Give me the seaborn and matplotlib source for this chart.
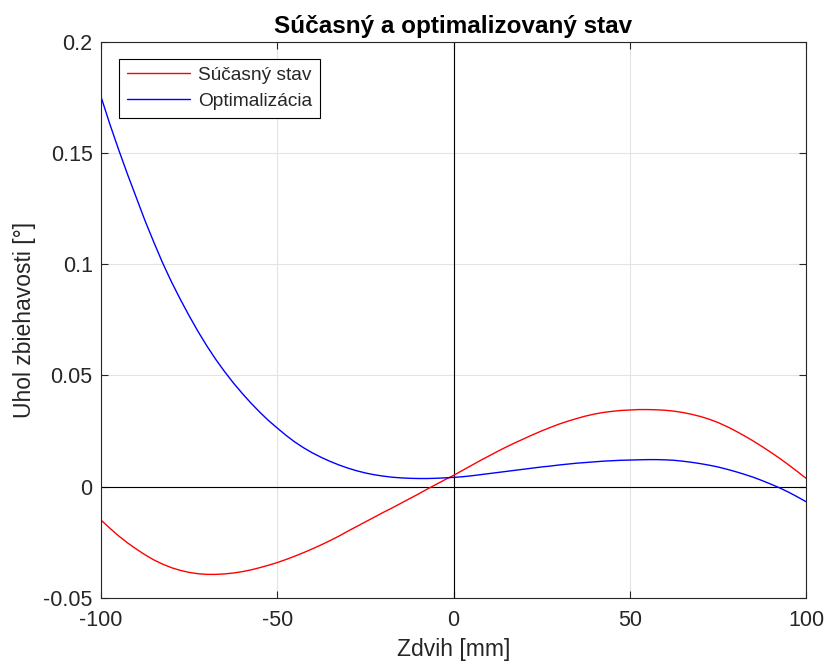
import matplotlib
matplotlib.use("Agg")
import matplotlib.pyplot as plt
import pandas as pd
import seaborn as sns

# Stroke positions [mm]
zdvih = [-100, -97.5, -95, -92.5, -90, -87.5, -85, -82.5, -80, -77.5,
         -75, -72.5, -70, -67.5, -65, -62.5, -60, -57.5, -55, -52.5,
         -50, -47.5, -45, -42.5, -40, -37.5, -35, -32.5, -30, -27.5,
         -25, -22.5, -20, -17.5, -15, -12.5, -10, -7.5, -5, -2.5,
         0, 2.5, 5, 7.5, 10, 12.5, 15, 17.5, 20, 22.5,
         25, 27.5, 30, 32.5, 35, 37.5, 40, 42.5, 45, 47.5,
         50, 52.5, 55, 57.5, 60, 62.5, 65, 67.5, 70, 72.5,
         75, 77.5, 80, 82.5, 85, 87.5, 90, 92.5, 95, 97.5, 100]

# Toe angle, current state [deg]
sucasny = [-0.0151, -0.0187, -0.0222, -0.0253, -0.0281, -0.0307, -0.0330, -0.0349, -0.0365, -0.0377,
           -0.0386, -0.0392, -0.0395, -0.0395, -0.0393, -0.0389, -0.0383, -0.0375, -0.0365, -0.0354,
           -0.0342, -0.0328, -0.0313, -0.0297, -0.0280, -0.0262, -0.0243, -0.0223, -0.0201, -0.0180,
           -0.0159, -0.0138, -0.0117, -0.0097, -0.0076, -0.0055, -0.0034, -0.0012, 0.0009, 0.0030,
           0.0050, 0.0072, 0.0094, 0.0116, 0.0137, 0.0158, 0.0178, 0.0197, 0.0215, 0.0233,
           0.0250, 0.0266, 0.0281, 0.0294, 0.0306, 0.0317, 0.0326, 0.0333, 0.0338, 0.0342,
           0.0344, 0.0346, 0.0346, 0.0345, 0.0343, 0.0339, 0.0333, 0.0325, 0.0315, 0.0303,
           0.0288, 0.0270, 0.0250, 0.0228, 0.0205, 0.0180, 0.0154, 0.0127, 0.0098, 0.0068, 0.0037]

# Toe angle, optimised state [deg]
optimalizacia = [0.1753, 0.1630, 0.1515, 0.1405, 0.1300, 0.1195, 0.1098, 0.1005, 0.0920, 0.0842,
                 0.0768, 0.0698, 0.0633, 0.0573, 0.0518, 0.0467, 0.0420, 0.0376, 0.0335, 0.0297,
                 0.0263, 0.0230, 0.0200, 0.0174, 0.0151, 0.0131, 0.0113, 0.0097, 0.0083, 0.0071,
                 0.0061, 0.0053, 0.0047, 0.0042, 0.0039, 0.0037, 0.0036, 0.0036, 0.0037, 0.0039,
                 0.0041, 0.0044, 0.0048, 0.0053, 0.0058, 0.0063, 0.0068, 0.0073, 0.0078, 0.0083,
                 0.0088, 0.0092, 0.0097, 0.0101, 0.0105, 0.0108, 0.0111, 0.0114, 0.0116, 0.0118,
                 0.0119, 0.0120, 0.0121, 0.0121, 0.0120, 0.0118, 0.0114, 0.0109, 0.0103, 0.0096,
                 0.0088, 0.0078, 0.0067, 0.0055, 0.0042, 0.0027, 0.0011, -0.0006, -0.0025, -0.0046, -0.0068]

series_names = ["Súčasný stav", "Optimalizácia"]
series_colors = ["#ff0000", "#0000ff"]

xticks = [-100, -50, 0, 50, 100]
yticks = [-0.05, 0, 0.05, 0.1, 0.15, 0.2]
yticklabels = ["-0.05", "0", "0.05", "0.1", "0.15", "0.2"]

df = pd.concat([
    pd.DataFrame({"Zdvih": zdvih, "Uhol": sucasny, "Stav": series_names[0]}),
    pd.DataFrame({"Zdvih": zdvih, "Uhol": optimalizacia, "Stav": series_names[1]}),
], ignore_index=True)

sns.set_theme(style="whitegrid")
plt.rcParams["font.family"] = ["Liberation Sans", "DejaVu Sans"]

fig = plt.figure(figsize=(8.25, 6.64), dpi=100)
ax = fig.add_axes([0.1224, 0.0998, 0.977 - 0.1224, 0.9372 - 0.0998])
ax.set_facecolor("white")

sns.lineplot(data=df, x="Zdvih", y="Uhol", hue="Stav", hue_order=series_names,
             palette=series_colors, linewidth=1.0, ax=ax, sort=False)

# Reference axes through the origin
ax.axhline(0, color="black", linewidth=0.8, zorder=1)
ax.axvline(0, color="black", linewidth=0.8, zorder=1)

ax.set_xlim(-100, 100)
ax.set_ylim(-0.05, 0.2)
ax.set_xticks(xticks)
ax.set_xticklabels([str(t) for t in xticks])
ax.set_yticks(yticks)
ax.set_yticklabels(yticklabels)

ax.grid(True, color="#e3e3e3", linewidth=0.8)
for sp in ax.spines.values():
    sp.set_visible(True)
    sp.set_color("#262626")
    sp.set_linewidth(0.8)
ax.tick_params(direction="in", length=5, width=0.8, color="#262626",
               labelsize=15.5, top=True, right=True, bottom=True, left=True,
               labelcolor="#262626")
ax.tick_params(axis="x", pad=9)
ax.tick_params(axis="y", pad=6)

ax.set_xlabel("Zdvih [mm]", fontsize=16.5, color="#262626", labelpad=5)
ax.set_ylabel("Uhol zbiehavosti [°]", fontsize=16.5, color="#262626", labelpad=5)
ax.set_title("Súčasný a optimalizovaný stav", fontsize=17.5, fontweight="bold",
             color="black", pad=6)

leg = ax.legend(loc="upper left", bbox_to_anchor=(0.026, 0.969), fontsize=13.8,
                frameon=True, fancybox=False, edgecolor="black", framealpha=1,
                borderpad=0.4, handlelength=3.3, handletextpad=0.4, labelspacing=0.45,
                borderaxespad=0)
leg.get_frame().set_linewidth(0.8)

fig.savefig("out.png", dpi=100)
